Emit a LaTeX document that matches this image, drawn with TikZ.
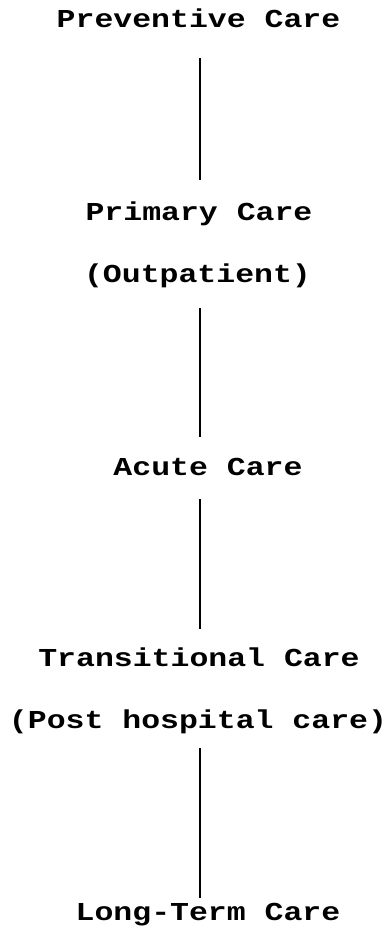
\documentclass[tikz,border=0pt]{standalone}
\usepackage{fontspec}
\setmonofont{Liberation Mono}
\usetikzlibrary{calc}
\begin{document}
\begin{tikzpicture}[x=1pt,y=1pt,
  lbl/.style={anchor=base,inner sep=0pt,transform shape,yscale=0.82,
    font=\ttfamily\bfseries\fontsize{31.5}{36}\selectfont},
  conn/.style={line width=1.7pt}]
\useasboundingbox (0,0) rectangle (389,-931);
\coordinate (axis) at (200,0);
\node[lbl] (pc) at (198.5,-27.5) {Preventive Care};
\node[lbl] (pr) at (199,-220) {Primary Care};
\node[lbl] (op) at (197.5,-282) {(Outpatient)};
\node[lbl] (ac) at (208,-475.7) {Acute Care};
\node[lbl] (tc) at (199,-666) {Transitional Care};
\node[lbl] (ph) at (198,-728) {(Post hospital care)};
\node[lbl] (lt) at (208,-920.7) {Long-Term Care};
\draw[conn] ($(pc.base -| axis)+(0,-30.5)$) -- ($(pr.base -| axis)+(0,40)$);
\draw[conn] ($(op.base -| axis)+(0,-26)$) -- ($(ac.base -| axis)+(0,38.7)$);
\draw[conn] ($(ac.base -| axis)+(0,-23.3)$) -- ($(tc.base -| axis)+(0,37)$);
\draw[conn] ($(ph.base -| axis)+(0,-20)$) -- ($(lt.base -| axis)+(0,22.7)$);
\end{tikzpicture}
\end{document}
